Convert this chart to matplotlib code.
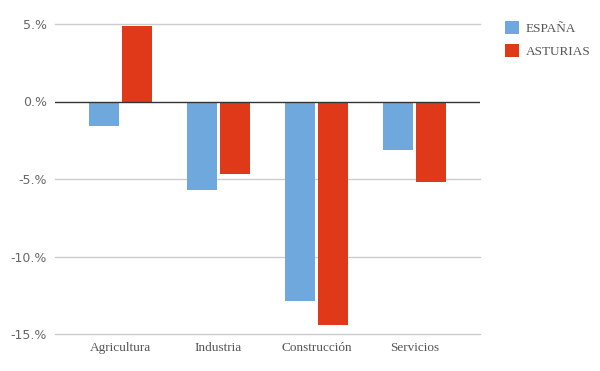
import matplotlib
matplotlib.use("Agg")
import matplotlib.pyplot as plt
import numpy as np
from matplotlib.patches import Patch

categories = ["Agricultura", "Industria", "Construcción", "Servicios"]
espana = [-1.6, -5.7, -12.9, -3.1]
asturias = [4.9, -4.7, -14.4, -5.2]
series_names = ["ESPAÑA", "ASTURIAS"]
colors = ["#6FA8DC", "#E0391A"]
yticks = [5, 0, -5, -10, -15]
ytick_labels = ["5.%", "0.%", "-5.%", "-10.%", "-15.%"]

fig = plt.figure(figsize=(6, 3.71), dpi=100)
ax = fig.add_axes([55/600, 1-334/371, 425/600, 310/371])

x = np.arange(len(categories))
w = 0.306
off = 0.168
ax.bar(x - off, espana, width=w, color=colors[0], zorder=3)
ax.bar(x + off, asturias, width=w, color=colors[1], zorder=3)

ax.set_xlim(-0.668, 3.668)
ax.set_ylim(-15, 5)
ax.set_yticks(yticks)
ax.set_yticklabels(ytick_labels)
for t in yticks:
    if t != 0:
        ax.axhline(t, color="#CCCCCC", lw=1, zorder=1, clip_on=False)
ax.axhline(0, color="#333333", lw=1, zorder=4)

ax.set_xticks(x)
ax.set_xticklabels(categories, fontfamily="Liberation Serif", fontsize=9.5, color="#555555")
ax.tick_params(axis="y", length=0, pad=6, labelsize=9, labelcolor="#666666")
ax.tick_params(axis="x", length=0, pad=6)
for s in ax.spines.values():
    s.set_visible(False)

handles = [Patch(facecolor=colors[i], label=series_names[i]) for i in range(2)]
fig.legend(handles=handles, loc="upper left", bbox_to_anchor=(493/600, 1-9/371),
           frameon=False, prop={"family": "Liberation Serif", "size": 9.5},
           labelcolor="#555555", handlelength=1.1, handleheight=1.1,
           handletextpad=0.5, labelspacing=0.7)

fig.savefig("out.png", dpi=100)
